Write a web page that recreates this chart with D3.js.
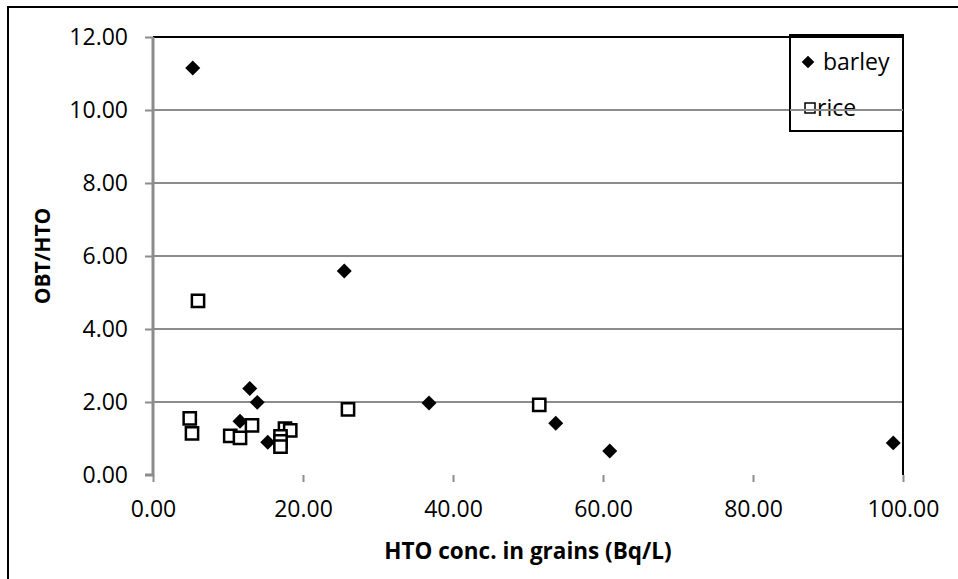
<!DOCTYPE html>
<html><head><meta charset="utf-8">
<script src="https://cdn.jsdelivr.net/npm/d3@7"></script>
<style>html,body{margin:0;padding:0;background:#fff;}svg{display:block;}</style>
</head><body>
<svg id="c" width="958" height="579"></svg>
<script>
const barleyX = [5.3, 25.5, 12.9, 13.9, 11.6, 15.3, 36.8, 53.7, 60.9, 98.7];
const barleyY = [11.15, 5.59, 2.37, 1.99, 1.47, 0.90, 1.97, 1.42, 0.66, 0.88];
const riceX = [6.0, 4.9, 5.2, 10.3, 11.6, 13.2, 26.0, 51.5, 17.6, 18.3, 17.0, 17.0, 17.0];
const riceY = [4.77, 1.55, 1.14, 1.07, 1.02, 1.36, 1.80, 1.92, 1.27, 1.22, 1.06, 0.92, 0.78];
const xTicks = [0, 20, 40, 60, 80, 100];
const yTicks = [0, 2, 4, 6, 8, 10, 12];
const seriesNames = ["barley", "rice"];
const xTitle = "HTO conc. in grains (Bq/L)";
const yTitle = "OBT/HTO";

const svg = d3.select("#c");
const font = "'Open Sans', 'Liberation Sans', sans-serif";
const L = 153, R = 903, T = 37, B = 475;
const x = d3.scaleLinear().domain([0, 100]).range([L, R]);
const y = d3.scaleLinear().domain([0, 12]).range([B, T]);

// outer chart border (continues beyond the window on right/bottom)
svg.append("path").attr("d", "M8,600V7H960").attr("fill", "none")
  .attr("stroke", "#000").attr("stroke-width", 2);

// gridlines
svg.append("g").selectAll("line").data(yTicks.filter(t => t > 0 && t < 12)).join("line")
  .attr("x1", L).attr("x2", R).attr("y1", d => y(d)).attr("y2", d => y(d))
  .attr("stroke", "#8c8c8c").attr("stroke-width", 2);

// plot border (top/right black)
svg.append("path").attr("d", `M${L},${T}H${R}V${B}`).attr("fill", "none")
  .attr("stroke", "#000").attr("stroke-width", 2);

// axes
const yAxis = d3.axisLeft(y).tickValues(yTicks).tickSize(8).tickPadding(17).tickFormat(d3.format(".2f"));
const gy = svg.append("g").attr("transform", `translate(${L},0)`).call(yAxis);
const xAxis = d3.axisBottom(x).tickValues(xTicks).tickSize(7).tickPadding(19).tickFormat(d3.format(".2f"));
const gx = svg.append("g").attr("transform", `translate(0,${B})`).call(xAxis);
[gx, gy].forEach(g => {
  g.select(".domain").attr("stroke", "#8c8c8c").attr("stroke-width", 3);
  g.selectAll(".tick line").attr("stroke", "#8c8c8c").attr("stroke-width", 2);
  g.selectAll("text").attr("font-family", font).attr("font-size", 23).attr("fill", "#000");
});
gy.select(".domain").attr("d", `M-8,${B}H0V${T}`);
gy.selectAll(".tick").filter(d => d === 0).select("line").remove();
gx.select(".domain").attr("d", `M${L},${B}H${R}V${B + 7}`);

// titles
svg.append("text").attr("x", (L + R) / 2).attr("y", 559).attr("text-anchor", "middle")
  .attr("font-family", font).attr("font-size", 22.5).attr("font-weight", "bold").text(xTitle);
svg.append("text").attr("transform", `translate(50,${(T + B) / 2}) rotate(-90)`).attr("text-anchor", "middle")
  .attr("font-family", font).attr("font-size", 21).attr("font-weight", "bold").text(yTitle);

// data
const diamond = d3.symbol(d3.symbolSquare, 112)();
const square = d3.symbol(d3.symbolSquare, 150)();
const barley = barleyX.map((v, i) => ({x: v, y: barleyY[i]}));
const rice = riceX.map((v, i) => ({x: v, y: riceY[i]}));
svg.append("g").selectAll("path").data(barley).join("path")
  .attr("d", diamond).attr("transform", d => `translate(${x(d.x)},${y(d.y)}) rotate(45)`).attr("fill", "#000");
svg.append("g").selectAll("path").data(rice).join("path")
  .attr("d", square).attr("transform", d => `translate(${x(d.x)},${y(d.y)})`)
  .attr("fill", "#fff").attr("stroke", "#000").attr("stroke-width", 2.5);

// legend
const lg = svg.append("g");
lg.append("rect").attr("x", 790).attr("y", 35).attr("width", 113).attr("height", 96)
  .attr("fill", "none").attr("stroke", "#000").attr("stroke-width", 2);
lg.append("path").attr("d", d3.symbol(d3.symbolSquare, 80)()).attr("transform", "translate(808,62) rotate(45)").attr("fill", "#000");
lg.append("path").attr("d", d3.symbol(d3.symbolSquare, 100)()).attr("transform", "translate(810,108)")
  .attr("fill", "none").attr("stroke", "#000").attr("stroke-width", 1.5);
lg.append("text").attr("x", 823).attr("y", 70).attr("font-family", font).attr("font-size", 23).text(seriesNames[0]);
lg.append("text").attr("x", 817).attr("y", 116).attr("font-family", font).attr("font-size", 23).text(seriesNames[1]);
// gridline at 10 crosses legend text
svg.append("line").attr("x1", 790).attr("x2", R).attr("y1", y(10)).attr("y2", y(10))
  .attr("stroke", "#8c8c8c").attr("stroke-width", 2);
</script>
</body></html>
